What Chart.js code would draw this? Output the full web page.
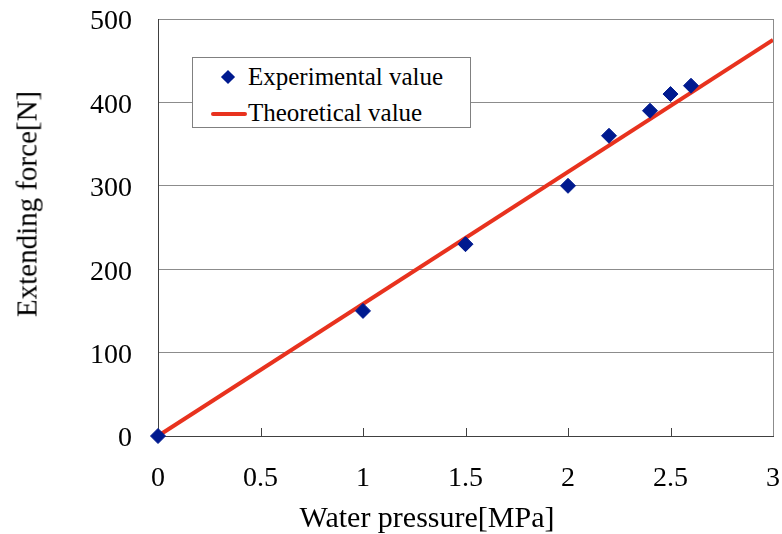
<!DOCTYPE html>
<html>
<head>
<meta charset="utf-8">
<script src="https://cdn.jsdelivr.net/npm/chart.js@4"></script>
<style>
  body { margin: 0; background: #fff; }
  #wrap { position: relative; width: 782px; height: 534px; }
  #legendBox {
    position: absolute; left: 192px; top: 57px; width: 277px; height: 69px;
    border: 1px solid #808080; background: #fff;
    font-family: "Liberation Serif", serif; font-size: 25px; color: #000;
  }
  .row { position: absolute; left: 0; height: 30px; line-height: 30px; }
  .row span.txt { position: absolute; left: 55px; white-space: nowrap; }
  .diamond {
    position: absolute; left: 30px; top: 10px; width: 10px; height: 10px;
    background: #001a8f; transform: rotate(45deg);
  }
  .lineSample {
    position: absolute; left: 18px; top: 14px; width: 36px; height: 4px;
    background: #e8321e; border-radius: 2px;
  }
  .axisTitle {
    position: absolute; white-space: nowrap;
    font-family: "Liberation Serif", serif; font-size: 29px; color: #000;
  }
  #yTitle { left: 27px; top: 204px; transform: translate(-50%, -50%) rotate(-90deg); }
  #xTitle { left: 427px; top: 517px; font-size: 30px; transform: translate(-50%, -50%); }
</style>
</head>
<body>
<div id="wrap">
  <canvas id="chart" width="782" height="534"></canvas>
  <div id="yTitle" class="axisTitle">Extending force[N]</div>
  <div id="xTitle" class="axisTitle">Water pressure[MPa]</div>
  <div id="legendBox">
    <div class="row" style="top:4px"><div class="diamond"></div><span class="txt">Experimental value</span></div>
    <div class="row" style="top:40px"><div class="lineSample"></div><span class="txt">Theoretical value</span></div>
  </div>
</div>
<script>
// measured points
var pressure = [0, 1, 1.5, 2, 2.2, 2.4, 2.5, 2.6];
var force = [0, 150, 230, 300, 360, 390, 410, 420];

// theoretical line end points
var theoryPressure = [0, 3];
var theoryForce = [0, 475];

var xTicks = [0, 0.5, 1, 1.5, 2, 2.5, 3];

var serif = '"Liberation Serif", "Times New Roman", serif';

// small tick marks pointing into the plot, plus right border
var insideTicks = {
  id: 'insideTicks',
  afterDraw: function(chart) {
    var ctx = chart.ctx;
    var area = chart.chartArea;
    var x = chart.scales.x;
    ctx.save();
    ctx.strokeStyle = '#404040';
    ctx.lineWidth = 1;
    xTicks.forEach(function(v) {
      if (v === 0 || v === 3) return;
      var px = Math.round(x.getPixelForValue(v)) + 0.5;
      ctx.beginPath();
      ctx.moveTo(px, area.bottom);
      ctx.lineTo(px, area.bottom - 8);
      ctx.stroke();
    });
    ctx.strokeStyle = '#8c8c8c';
    ctx.beginPath();
    ctx.moveTo(Math.round(area.right) + 0.5, area.top);
    ctx.lineTo(Math.round(area.right) + 0.5, area.bottom);
    ctx.stroke();
    ctx.restore();
  }
};

// don't let tick labels push the plot area around
function noPadding(scale) {
  scale.paddingTop = 0;
  scale.paddingBottom = 0;
  scale.paddingLeft = 0;
  scale.paddingRight = 0;
}

var ctx = document.getElementById('chart').getContext('2d');
new Chart(ctx, {
  type: 'scatter',
  data: {
    datasets: [
      {
        label: 'Experimental value',
        data: pressure.map(function(p, i) { return { x: p, y: force[i] }; }),
        pointStyle: 'rectRot',
        pointRadius: 7.5,
        pointBackgroundColor: '#001a8f',
        pointBorderColor: '#001a8f',
        pointBorderWidth: 1,
        clip: false
      },
      {
        label: 'Theoretical value',
        type: 'line',
        data: theoryPressure.map(function(p, i) { return { x: p, y: theoryForce[i] }; }),
        borderColor: '#e8321e',
        borderWidth: 4,
        pointRadius: 0,
        fill: false
      }
    ]
  },
  options: {
    responsive: false,
    animation: false,
    layout: { padding: { left: 0, right: 9, top: 19, bottom: 0 } },
    plugins: { legend: { display: false }, tooltip: { enabled: false } },
    scales: {
      x: {
        type: 'linear',
        min: 0,
        max: 3,
        afterBuildTicks: function(scale) {
          scale.ticks = xTicks.map(function(v) { return { value: v }; });
        },
        afterFit: function(scale) { scale.height = 98; noPadding(scale); },
        grid: { display: false, drawTicks: false },
        border: { display: true, color: '#404040', width: 1 },
        ticks: {
          padding: 26,
          maxRotation: 0,
          color: '#000',
          font: { family: serif, size: 28 },
          callback: function(v) { return String(v); }
        }
      },
      y: {
        min: 0,
        max: 500,
        afterFit: function(scale) { scale.width = 158; noPadding(scale); },
        grid: { color: '#8c8c8c', lineWidth: 1, drawTicks: false },
        border: { display: true, color: '#404040', width: 1 },
        ticks: {
          stepSize: 100,
          padding: 26,
          labelOffset: 3,
          color: '#000',
          font: { family: serif, size: 28 }
        }
      }
    }
  },
  plugins: [insideTicks]
});
</script>
</body>
</html>
